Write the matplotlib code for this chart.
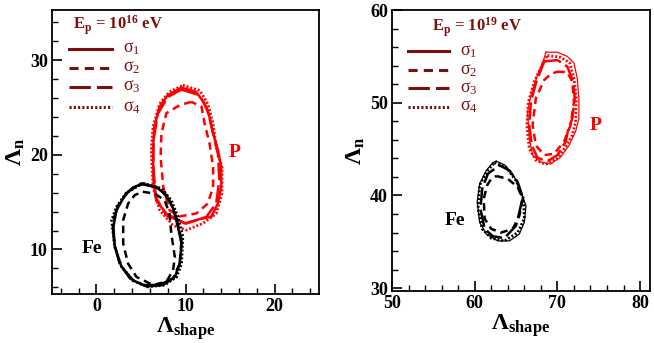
import numpy as np
import matplotlib
matplotlib.use('Agg')
import matplotlib.pyplot as plt
from matplotlib.ticker import MultipleLocator

plt.rcParams['font.family'] = ['Liberation Serif', 'DejaVu Serif']
plt.rcParams['mathtext.fontset'] = 'custom'
plt.rcParams['mathtext.rm'] = 'Liberation Serif'
plt.rcParams['mathtext.bf'] = 'Liberation Serif:bold'
plt.rcParams['mathtext.it'] = 'Liberation Serif:italic'

# === contours, (Lambda_shape, Lambda_n) ===
# left panel, E = 1e16 eV
p16_s1_x = [9.53, 11.2, 12.15, 12.7, 13.1, 13.65, 14.0, 14.0, 13.65, 12.9, 11.95, 9.9, 7.85, 6.7, 6.4, 6.35, 6.5, 7.1, 8.0]
p16_s1_y = [27.1, 26.65, 25.4, 24.0, 22.25, 20.5, 18.7, 16.6, 14.9, 13.45, 13.3, 12.75, 13.8, 15.2, 17.3, 20.5, 23.0, 25.1, 26.3]
p16_s2_x = [10.65, 9.35, 7.85, 7.3, 7.2, 7.5, 8.2, 9.35, 11.2, 12.5, 13.1, 13.1, 12.7, 12.15, 11.8]
p16_s2_y = [25.6, 25.25, 24.4, 22.25, 19.8, 16.6, 14.15, 13.5, 13.8, 14.85, 16.6, 18.7, 21.2, 23.3, 25.1]
p16_s3_x = [9.53, 11.6, 12.5, 13.1, 13.65, 13.8, 13.45, 12.35, 10.1, 7.85, 6.65, 6.4, 6.4, 6.9, 8.0]
p16_s3_y = [26.9, 26.3, 24.7, 22.25, 20.1, 17.3, 14.9, 13.45, 12.75, 13.6, 15.55, 18.7, 21.55, 24.35, 26.1]
p16_s4_x = [9.7, 11.6, 12.5, 13.1, 13.45, 14.1, 14.1, 13.45, 11.95, 10.1, 8.6, 7.1, 6.35, 6.15, 6.35, 7.1, 8.2]
p16_s4_y = [27.35, 26.8, 25.4, 23.3, 20.85, 18.7, 15.9, 13.8, 12.75, 12.05, 12.55, 14.15, 16.6, 20.5, 22.95, 25.4, 26.65]

fe16_s1_x = [5.05, 6.7, 7.85, 8.6, 9.15, 9.55, 9.35, 8.8, 7.5, 5.6, 4.1, 2.8, 2.05, 1.9, 2.25, 3.2, 4.1]
fe16_s1_y = [16.9, 16.6, 15.75, 14.35, 12.4, 10.6, 8.5, 7.1, 6.25, 6.1, 6.75, 8.2, 10.3, 12.4, 14.15, 15.75, 16.55]
fe16_s2_x = [5.2, 6.55, 7.65, 8.2, 8.4, 8.8, 8.6, 7.85, 6.35, 4.5, 3.55, 3.0, 3.0, 3.55, 4.3]
fe16_s2_y = [16.1, 15.9, 15.2, 13.8, 11.7, 9.2, 7.8, 6.6, 6.25, 7.1, 8.5, 10.6, 13.1, 14.85, 15.75]
fe16_s3_x = [5.05, 7.1, 8.2, 8.95, 9.55, 9.35, 8.6, 7.1, 5.25, 3.75, 2.6, 2.0, 1.8, 2.45, 3.55]
fe16_s3_y = [17.0, 16.45, 15.2, 13.45, 11.0, 8.5, 6.95, 6.25, 6.25, 6.95, 8.5, 10.6, 12.9, 14.7, 16.1]
fe16_s4_x = [5.25, 7.3, 8.4, 9.15, 9.7, 9.55, 9.0, 7.65, 5.8, 4.1, 2.8, 2.05, 1.7, 2.25, 3.35]
fe16_s4_y = [17.0, 16.45, 15.2, 13.45, 11.35, 8.5, 7.1, 6.25, 6.05, 6.7, 8.2, 10.3, 13.1, 14.5, 16.0]

# right panel, E = 1e19 eV
p19_s1_x = [68.6, 70.0, 71.2, 72.0, 72.4, 72.6, 72.6, 72.2, 71.4, 70.4, 69.2, 68.0, 67.0, 66.6, 66.4, 66.8, 67.6, 68.4]
p19_s1_y = [55.45, 55.45, 55.0, 54.3, 52.65, 50.5, 48.3, 46.9, 45.4, 44.15, 43.4, 43.6, 44.35, 46.15, 49.0, 50.85, 53.0, 54.8]
p19_s2_x = [70.0, 71.2, 71.8, 72.0, 71.6, 70.8, 69.6, 68.4, 67.4, 67.0, 67.4, 68.4, 69.2]
p19_s2_y = [53.35, 53.3, 52.3, 50.1, 47.6, 45.8, 44.5, 44.35, 45.4, 47.6, 50.5, 52.45, 53.1]
p19_s3_x = [68.4, 70.0, 71.2, 71.9, 72.1, 71.8, 71.3, 71.0, 70.0, 68.8, 67.6, 66.9, 66.6, 66.8, 67.4]
p19_s3_y = [54.45, 54.6, 53.9, 52.3, 50.5, 48.3, 47.05, 45.8, 44.35, 43.7, 44.05, 45.4, 47.6, 50.1, 52.1]
p19_s4_x = [68.8, 70.4, 71.5, 72.0, 72.3, 72.2, 71.8, 71.0, 70.0, 68.6, 67.4, 66.6, 66.3, 66.5, 67.2, 68.2]
p19_s4_y = [55.1, 54.9, 54.3, 52.65, 50.5, 47.95, 46.5, 45.25, 44.0, 43.35, 43.8, 45.05, 47.6, 50.1, 52.3, 54.1]

fe19_s1_x = [62.6, 63.6, 64.8, 65.6, 66.2, 66.0, 65.4, 64.2, 62.8, 61.4, 60.6, 60.3, 60.6, 61.4, 62.2]
fe19_s1_y = [43.7, 43.3, 42.0, 40.35, 38.9, 37.1, 35.85, 35.1, 35.1, 35.85, 37.1, 39.3, 41.25, 42.7, 43.55]
fe19_s2_x = [62.6, 64.0, 65.2, 65.8, 65.4, 64.6, 63.2, 62.0, 61.2, 61.1, 61.5, 62.0]
fe19_s2_y = [42.1, 41.8, 40.9, 39.65, 37.8, 36.4, 36.0, 36.4, 37.5, 39.65, 41.1, 41.8]
fe19_s3_x = [63.0, 64.2, 65.2, 65.8, 65.4, 65.0, 63.6, 62.2, 61.2, 60.7, 60.9, 61.6]
fe19_s3_y = [43.25, 42.7, 41.45, 39.8, 38.2, 36.75, 35.4, 35.6, 36.4, 38.55, 40.7, 42.35]
fe19_s4_x = [62.4, 63.8, 65.0, 65.9, 66.0, 65.2, 63.6, 62.0, 60.9, 60.4, 60.6, 61.4]
fe19_s4_y = [43.55, 43.05, 41.6, 39.65, 37.5, 36.0, 35.1, 35.4, 36.4, 38.55, 41.1, 42.5]

sigma_labels = ['σ$_1$', 'σ$_2$', 'σ$_3$', 'σ$_4$']
styles = ['-', (0, (3, 2)), (0, (7, 2)), (0, (0.7, 0.7))]
dark = '#7f0f0f'


def closed(x, y):
    return list(x) + [x[0]], list(y) + [y[0]]


def draw_set(ax, curves, color, widths):
    for (cx, cy), ls, lw in zip(curves, styles, widths):
        xx, yy = closed(cx, cy)
        ax.plot(xx, yy, color=color, linestyle=ls, linewidth=lw)


def style_axes(ax, xlim, ylim):
    ax.set_xlim(*xlim)
    ax.set_ylim(*ylim)
    ax.xaxis.set_major_locator(MultipleLocator(10))
    ax.xaxis.set_minor_locator(MultipleLocator(2))
    ax.yaxis.set_major_locator(MultipleLocator(10))
    ax.yaxis.set_minor_locator(MultipleLocator(2))
    ax.tick_params(which='both', direction='in', top=False, right=False)
    ax.tick_params(which='major', length=7, width=1.2, labelsize=13, pad=3)
    ax.tick_params(which='minor', length=4, width=1.0)
    for lab in ax.get_xticklabels() + ax.get_yticklabels():
        lab.set_fontweight('bold')
    for sp in ax.spines.values():
        sp.set_linewidth(1.3)
    ax.set_xlabel(r'Λ$_{\mathbf{shape}}$', fontsize=17, fontweight='bold', labelpad=0)
    ax.set_ylabel(r'Λ$_{\mathbf{n}}$', fontsize=17, fontweight='bold', labelpad=2)


def legend_block(ax, title, tx, ty, x0, x1, ys, lx):
    ax.text(tx, ty, title, transform=ax.transAxes, color=dark, fontsize=12,
            fontweight='bold', ha='left', va='center')
    for ls, lab, yy in zip(styles, sigma_labels, ys):
        ax.plot([x0, x1], [yy, yy], transform=ax.transAxes, color=dark,
                linestyle=ls, linewidth=2.2)
        ax.text(lx, yy, lab, transform=ax.transAxes, color=dark, fontsize=13,
                ha='left', va='center')


fig = plt.figure(figsize=(6.54, 3.43), dpi=100)
ax1 = fig.add_axes([0.0795, 0.1429, 0.4083, 0.8279])
ax2 = fig.add_axes([0.5994, 0.1516, 0.3945, 0.8192])

# left panel
draw_set(ax1, [(p16_s1_x, p16_s1_y), (p16_s2_x, p16_s2_y), (p16_s3_x, p16_s3_y), (p16_s4_x, p16_s4_y)],
         'red', [1.8, 1.8, 1.8, 2.0])
draw_set(ax1, [(fe16_s1_x, fe16_s1_y), (fe16_s2_x, fe16_s2_y), (fe16_s3_x, fe16_s3_y), (fe16_s4_x, fe16_s4_y)],
         'black', [1.8, 1.8, 1.8, 2.0])
style_axes(ax1, (-5, 25), (5.3, 35.3))
ax1.text(15.5, 20.3, 'P', color='red', fontsize=14, fontweight='bold', ha='center', va='center')
ax1.text(-0.5, 10.1, 'Fe', color='black', fontsize=14, fontweight='bold', ha='center', va='center')
legend_block(ax1, r'E$_{\mathbf{p}}$ = 10$^{\mathbf{16}}$ eV', 0.079, 0.947,
             0.064, 0.225, [0.863, 0.796, 0.729, 0.658], 0.266)

# right panel
draw_set(ax2, [(p19_s1_x, p19_s1_y), (p19_s2_x, p19_s2_y), (p19_s3_x, p19_s3_y), (p19_s4_x, p19_s4_y)],
         'red', [0.9, 1.8, 1.8, 2.0])
draw_set(ax2, [(fe19_s1_x, fe19_s1_y), (fe19_s2_x, fe19_s2_y), (fe19_s3_x, fe19_s3_y), (fe19_s4_x, fe19_s4_y)],
         'black', [0.9, 1.8, 1.8, 2.0])
style_axes(ax2, (50, 81.2), (29.7, 60))
ax2.text(74.6, 47.6, 'P', color='red', fontsize=14, fontweight='bold', ha='center', va='center')
ax2.text(57.6, 37.3, 'Fe', color='black', fontsize=14, fontweight='bold', ha='center', va='center')
legend_block(ax2, r'E$_{\mathbf{p}}$ = 10$^{\mathbf{19}}$ eV', 0.155, 0.94,
             0.062, 0.221, [0.854, 0.786, 0.722, 0.655], 0.264)

fig.savefig('out.png', dpi=100)
